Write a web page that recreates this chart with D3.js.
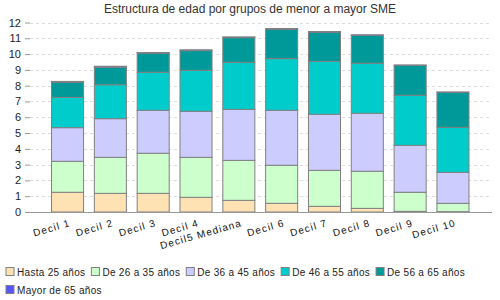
<!DOCTYPE html>
<html>
<head>
<meta charset="utf-8">
<script src="https://cdn.jsdelivr.net/npm/d3@7/dist/d3.min.js"></script>
<style>
  body { margin: 0; background: #fff; }
  svg { display: block; font-family: "Liberation Sans", Arial, sans-serif; }
</style>
</head>
<body>
<svg id="chart" width="500" height="300"></svg>
<script>
// datos
var categories = ["Decil 1", "Decil 2", "Decil 3", "Decil 4", "Decil5 Mediana",
                  "Decil 6", "Decil 7", "Decil 8", "Decil 9", "Decil 10"];
var seriesNames = ["Hasta 25 años", "De 26 a 35 años", "De 36 a 45 años",
                   "De 46 a 55 años", "De 56 a 65 años", "Mayor de 65 años"];
var hasta25  = [1.25, 1.18, 1.18, 0.93, 0.74, 0.55, 0.36, 0.23, 0.04, 0.02];
var de26a35  = [1.96, 2.28, 2.54, 2.53, 2.53, 2.41, 2.28, 2.35, 1.21, 0.53];
var de36a45  = [2.13, 2.45, 2.72, 2.92, 3.23, 3.48, 3.55, 3.67, 2.97, 1.96];
var de46a55  = [1.92, 2.15, 2.41, 2.59, 2.98, 3.27, 3.35, 3.17, 3.17, 2.85];
var de56a65  = [0.95, 1.10, 1.20, 1.25, 1.56, 1.86, 1.84, 1.77, 1.90, 2.22];
var mayor65  = [0.06, 0.07, 0.05, 0.05, 0.05, 0.05, 0.05, 0.03, 0.02, 0.02];
var yTicks = [0, 1, 2, 3, 4, 5, 6, 7, 8, 9, 10, 11, 12];
var colors = ["#ffe2b3", "#ccffcc", "#ccccff", "#00cccc", "#009999", "#5555ff"];

var svg = d3.select("#chart");
var allSeries = [hasta25, de26a35, de36a45, de46a55, de56a65, mayor65];

var table = categories.map(function(c, i) {
    var row = { cat: c };
    seriesNames.forEach(function(s, j) { row[s] = allSeries[j][i]; });
    return row;
});

var stack = d3.stack().keys(seriesNames);
var layers = stack(table);

var xScale = d3.scaleBand().domain(categories).range([28.5, 491])
        .paddingInner(0.252).paddingOuter(0.526),
    yScale = d3.scaleLinear().domain([0, 12]).range([212, 22.5]);

svg.append("text")
    .attr("x", 250).attr("y", 13)
    .attr("text-anchor", "middle")
    .style("font-size", "12px")
    .style("fill", "#333")
    .text("Estructura de edad por grupos de menor a mayor SME");

// lineas de la grilla
var grid = svg.append("g");
grid.selectAll("line")
    .data(yTicks.filter(function(d) { return d > 0; }))
    .enter().append("line")
    .attr("x1", 30).attr("x2", 492)
    .attr("y1", function(d) { return Math.round(yScale(d)) + 0.5; })
    .attr("y2", function(d) { return Math.round(yScale(d)) + 0.5; })
    .style("stroke", "#dddddd")
    .style("stroke-dasharray", "3,3");

var yAxis = svg.append("g")
    .attr("transform", "translate(30,0)")
    .call(d3.axisLeft(yScale).tickValues(yTicks).tickSize(5).tickPadding(4));
yAxis.select(".domain").remove();
yAxis.selectAll(".tick line").style("stroke", "#999");
yAxis.selectAll(".tick text")
    .style("font-size", "11px")
    .style("font-family", "Liberation Sans, Arial, sans-serif")
    .style("fill", "#222");

// barras apiladas
svg.append("g").selectAll("g")
    .data(layers)
    .enter().append("g")
    .style("fill", function(d, i) { return colors[i]; })
    .selectAll("rect")
    .data(function(d) { return d; })
    .enter().append("rect")
    .attr("x", function(d) { return xScale(d.data.cat) + 0.5; })
    .attr("y", function(d) { return yScale(d[1]); })
    .attr("width", xScale.bandwidth())
    .attr("height", function(d) { return yScale(d[0]) - yScale(d[1]); })
    .style("stroke", "#808080")
    .style("stroke-width", 1);

svg.append("line")
    .attr("x1", 25).attr("x2", 492)
    .attr("y1", 212.5).attr("y2", 212.5)
    .style("stroke", "#999");

// etiquetas del eje x
svg.append("g").selectAll("text")
    .data(categories)
    .enter().append("text")
    .attr("transform", function(d) {
        return "translate(" + (xScale(d) + xScale.bandwidth() / 2 + 4) + ",226) rotate(-16)";
    })
    .attr("text-anchor", "end")
    .style("font-size", "10px")
    .style("letter-spacing", "1.1px")
    .style("fill", "#111")
    .text(function(d) { return d; });

// leyenda
var legend = svg.append("g");
var lx = 6, ly = 267.5;
seriesNames.forEach(function(s, i) {
    var item = legend.append("g");
    item.append("rect")
        .attr("width", 8).attr("height", 8)
        .style("fill", colors[i])
        .style("stroke", "#808080");
    var t = item.append("text")
        .attr("x", 11).attr("y", 8)
        .style("font-size", "10px")
        .style("letter-spacing", "0.3px")
        .style("fill", "#222")
        .text(s);
    var w = 11 + t.node().getComputedTextLength() + 6;
    if (lx + w > 495) { lx = 6; ly += 18; }
    item.attr("transform", "translate(" + lx + "," + ly + ")");
    lx += w;
});
</script>
</body>
</html>
